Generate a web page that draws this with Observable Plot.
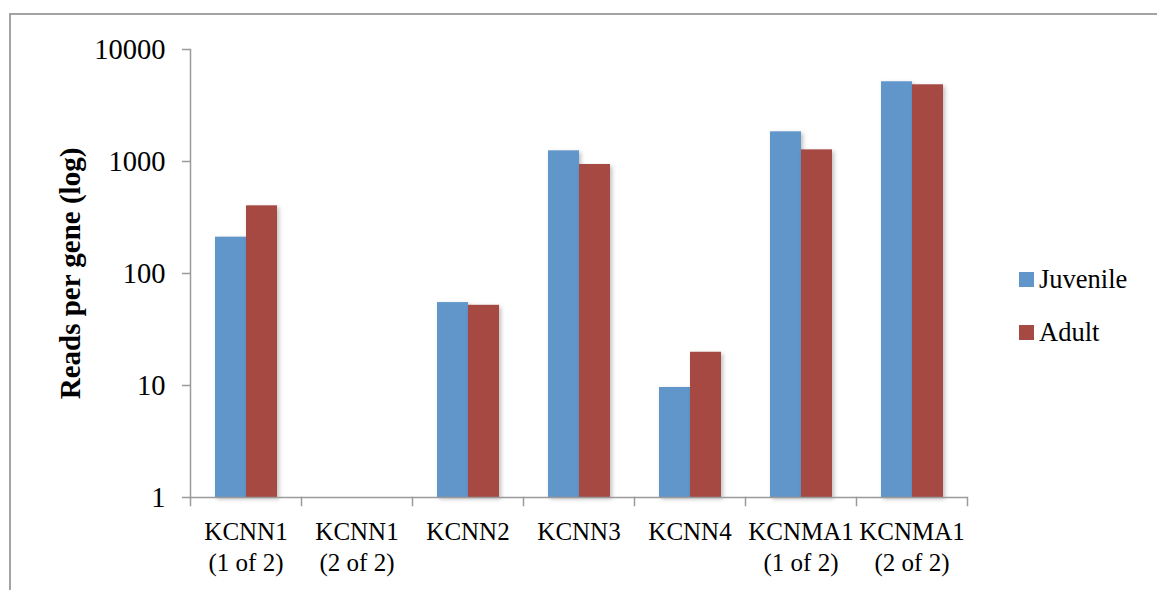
<!DOCTYPE html>
<html>
<head>
<meta charset="utf-8">
<script src="https://cdn.jsdelivr.net/npm/d3@7"></script>
<script src="https://cdn.jsdelivr.net/npm/@observablehq/plot@0.6"></script>
<style>
  html, body { margin: 0; padding: 0; background: #fff; overflow: hidden; }
  body { width: 1157px; height: 590px; position: relative; font-family: "Liberation Serif", "DejaVu Serif", serif; }
  #frame { position: absolute; left: 9px; top: 13px; width: 1400px; height: 900px;
           border-top: 2px solid #a3a3a3; border-left: 2px solid #a3a3a3; box-sizing: border-box; }
  #chart { position: absolute; left: 0; top: 0; }
  #legend { position: absolute; left: 1019px; top: 263px; font-size: 26.5px; color: #000; }
  .item { display: flex; align-items: center; height: 32px; margin-bottom: 21px; }
  .sw { width: 15px; height: 15px; margin-right: 5px; }
  svg g[aria-label="bar"] rect { filter: drop-shadow(2px 2px 2px rgba(0,0,0,0.25)); }
</style>
</head>
<body>
<div id="frame"></div>
<div id="chart"></div>
<div id="legend"></div>
<script>
const genes = ["KCNN1 (1 of 2)", "KCNN1 (2 of 2)", "KCNN2", "KCNN3", "KCNN4", "KCNMA1 (1 of 2)", "KCNMA1 (2 of 2)"];
const geneLabels = ["KCNN1\n(1 of 2)", "KCNN1\n(2 of 2)", "KCNN2", "KCNN3", "KCNN4", "KCNMA1\n(1 of 2)", "KCNMA1\n(2 of 2)"];
const series = ["Juvenile", "Adult"];
const juvenile = [211, null, 55, 1245, 9.6, 1840, 5150];
const adult = [402, null, 52, 940, 19.8, 1270, 4840];
const colors = ["#6096CA", "#A64942"];
const yTicks = [1, 10, 100, 1000, 10000];

const data = [];
genes.forEach((g, i) => {
  data.push({gene: g, series: "Juvenile", value: juvenile[i]});
  data.push({gene: g, series: "Adult", value: adult[i]});
});

const W = 1157, H = 590;
const mL = 188, mR = 188, mT = 49, mB = 93;
const plotH = H - mT - mB;
const axisColor = "#9a9a9a";

const chart = Plot.plot({
  width: W,
  height: H,
  marginLeft: mL,
  marginRight: mR,
  marginTop: mT,
  marginBottom: mB,
  style: {fontFamily: "'Liberation Serif', 'DejaVu Serif', serif", fontSize: "25px", color: "#000", background: "transparent"},
  fx: {domain: genes, padding: 0, label: null, axis: null},
  x: {domain: series, paddingInner: 0, paddingOuter: 0.74, axis: null},
  y: {type: "log", domain: [1, 10000], axis: null},
  color: {domain: series, range: colors},
  marks: [
    Plot.barY(data, {fx: "gene", x: "series", y1: 1, y2: "value", fill: "series", inset: 0}),
    Plot.ruleY([1], {stroke: axisColor, strokeWidth: 1.5}),
    Plot.frame({anchor: "left", facetAnchor: "left", stroke: axisColor, strokeWidth: 1.5}),
    Plot.frame({anchor: "left", insetTop: plotH, insetBottom: -8, stroke: axisColor, strokeWidth: 1.5}),
    Plot.frame({anchor: "right", facetAnchor: "right", insetTop: plotH, insetBottom: -8, stroke: axisColor, strokeWidth: 1.5}),
    Plot.axisY({anchor: "left", facetAnchor: "left", ticks: yTicks, tickFormat: d => String(d), tickSize: 8, tickPadding: 17,
      stroke: axisColor, strokeWidth: 1.5, fontSize: 28.5, fill: "#000",
      label: "Reads per gene (log)", labelAnchor: "center", labelOffset: 131, labelArrow: "none"}),
    Plot.axisFx({anchor: "bottom", tickSize: 0, tickPadding: 20, label: null, fontSize: 25, fill: "#000",
      lineHeight: 1.26, tickFormat: g => geneLabels[genes.indexOf(g)]})
  ]
});
document.getElementById("chart").appendChild(chart);

// bold, larger y-axis label
chart.querySelectorAll("g[aria-label='y-axis label']").forEach(el => {
  el.setAttribute("font-weight", "bold");
  el.setAttribute("font-size", "29");
});

const legend = document.getElementById("legend");
series.forEach((s, i) => {
  const item = document.createElement("div");
  item.className = "item";
  const sw = document.createElement("div");
  sw.className = "sw";
  sw.style.background = colors[i];
  const t = document.createElement("span");
  t.textContent = s;
  item.appendChild(sw);
  item.appendChild(t);
  legend.appendChild(item);
});
</script>
</body>
</html>
